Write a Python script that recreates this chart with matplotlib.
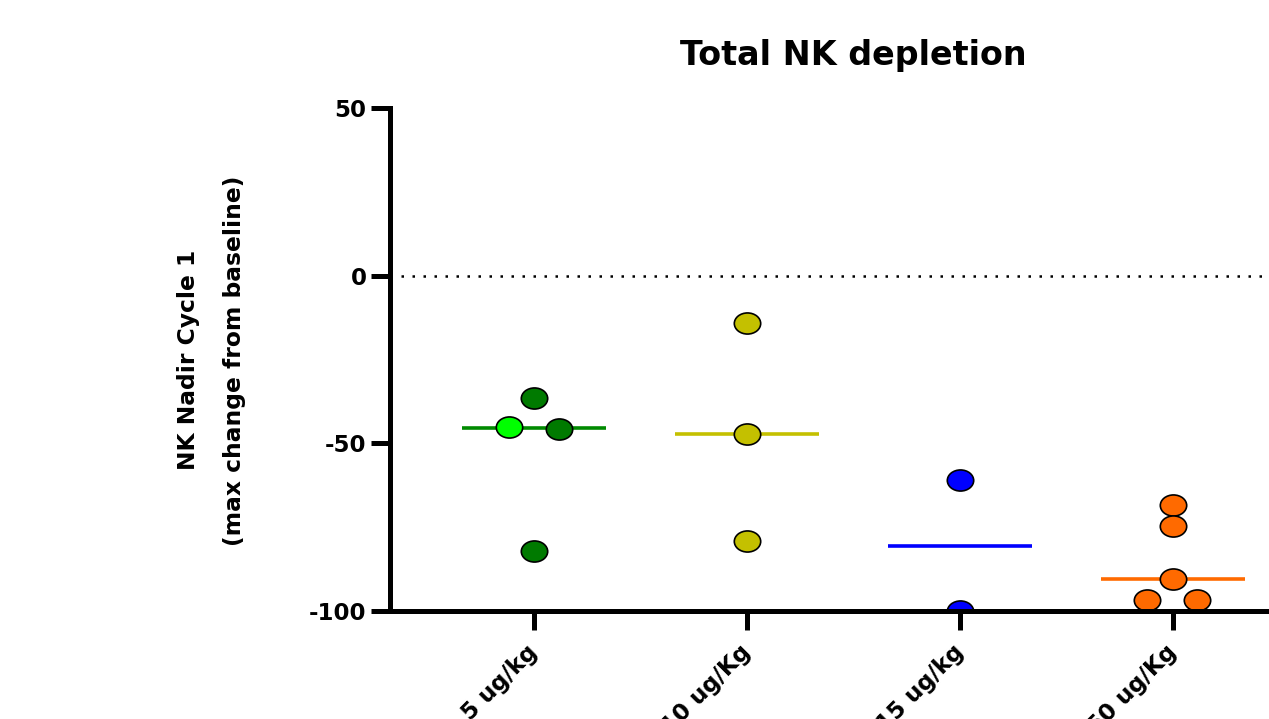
import numpy as np
import matplotlib.pyplot as plt
from matplotlib.path import Path
from matplotlib.transforms import Affine2D

# dose groups
groups = ["5 ug/kg", "10 ug/Kg", "15 ug/kg", "50 ug/Kg"]

# NK nadir values (max change from baseline, %)
nk_5 = [-36.6, -45.1, -45.8, -82.0]
nk_10 = [-14.1, -47.2, -79.0]
nk_15 = [-61.0, -100.0]
nk_50 = [-68.4, -74.8, -90.5, -96.7, -96.7]

# point colours (one subject in the 5 ug/kg group stands out)
pt_5 = ["#007a00", "#00ff00", "#007a00", "#007a00"]
pt_10 = ["#c4c000"] * 3
pt_15 = ["#0000ff"] * 2
pt_50 = ["#ff6a00"] * 5
line_colors = ["#008a00", "#c4c000", "#0000ff", "#ff6a00"]

# horizontal spread of overlapping points
jit_5 = [0, -0.117, 0.117, 0]
jit_10 = [0, 0, 0]
jit_15 = [0, 0]
jit_50 = [0, 0, 0, -0.12, 0.115]

values = [nk_5, nk_10, nk_15, nk_50]
colors = [pt_5, pt_10, pt_15, pt_50]
jitter = [jit_5, jit_10, jit_15, jit_50]

plt.rcParams["font.family"] = "DejaVu Sans"
plt.rcParams["font.weight"] = "bold"
plt.rcParams["axes.unicode_minus"] = False

fig = plt.figure(figsize=(12.69, 7.19), dpi=100)
ax = fig.add_axes([390 / 1269, 108 / 719, (1343 - 390) / 1269, 503 / 719])

# elliptical marker, a bit wider than tall
ell = Path.unit_circle().transformed(Affine2D().scale(1.0, 0.8))

for i, (vals, cols, jit) in enumerate(zip(values, colors, jitter)):
    med = np.median(vals)
    ax.plot([i - 0.338, i + 0.338], [med, med], color=line_colors[i],
            lw=2.6, zorder=2, solid_capstyle="butt")
    for v, c, j in zip(vals, cols, jit):
        ax.plot(i + j, v, marker=ell, ms=19, mfc=c, mec="black", mew=1.2,
                ls="none", zorder=2.2)

ax.axhline(0, color="black", lw=1.8, ls=(0, (1, 3.4)), zorder=1)

ax.set_xlim(-0.676, 3.8)
ax.set_ylim(-100, 50)
ax.set_yticks([-100, -50, 0, 50])
ax.set_xticks(range(len(groups)))
ax.set_xticklabels(groups)

for s in ["top", "right"]:
    ax.spines[s].set_visible(False)
for s in ["left", "bottom"]:
    ax.spines[s].set_linewidth(3.6)

ax.tick_params(axis="both", width=3.6, length=14, labelsize=16.5)
ax.tick_params(axis="y", pad=3)
ax.tick_params(axis="x", pad=13)
for lab in ax.get_xticklabels():
    lab.set_rotation(45)
    lab.set_ha("right")
    lab.set_va("center")
    lab.set_rotation_mode("anchor")
for lab in ax.get_xticklabels() + ax.get_yticklabels():
    lab.set_fontweight("bold")

fig.text(853 / 1269, 1 - 56 / 719, "Total NK depletion", ha="center",
         va="center", fontsize=24, fontweight="bold")
fig.text(189 / 1269, 1 - 360 / 719, "NK Nadir Cycle 1", rotation=90,
         ha="center", va="center", fontsize=16.8, fontweight="bold")
fig.text(235 / 1269, 1 - 361 / 719, "(max change from baseline)", rotation=90,
         ha="center", va="center", fontsize=16.8, fontweight="bold")

fig.savefig("out.png", dpi=100)
